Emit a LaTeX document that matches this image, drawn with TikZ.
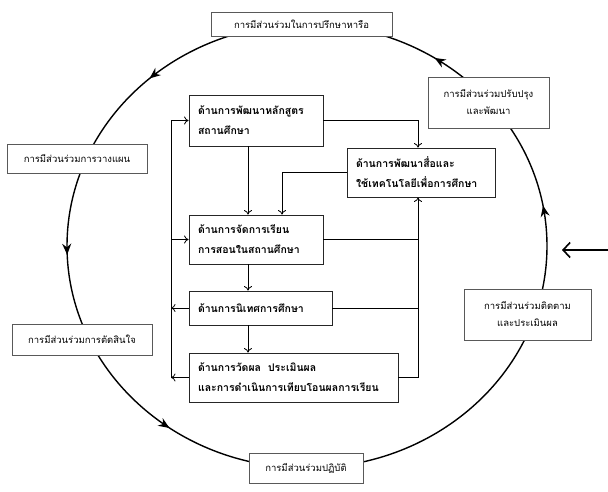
\documentclass[tikz,border=0pt]{standalone}
\usepackage{fontspec}
\newfontfamily\thaifont[Script=Thai]{Loma}
\usepackage{tikz}
\usetikzlibrary{arrows.meta,decorations.markings}

\begin{document}
\begin{tikzpicture}[x=1pt,y=1pt,
  outer/.style={draw=black!65, fill=white, line width=0.6pt, align=center,
    inner sep=0pt, font=\thaifont\fontsize{9.5}{17}\selectfont},
  inbox/.style={draw=black!85, fill=white, line width=0.8pt, align=left,
    inner xsep=9pt, inner ysep=0pt, font=\thaifont\bfseries\fontsize{10.5}{20}\selectfont},
  link/.style={line width=0.8pt, -{To[length=4.5pt,width=8pt]}},
  ring/.style={line width=1.4pt, postaction={decorate}, decoration={markings,
    mark=at position 0.028 with {\arrow{Stealth[length=11pt,width=9pt]}},
    mark=at position 0.158 with {\arrow{Stealth[length=11pt,width=9pt]}},
    mark=at position 0.367 with {\arrow{Stealth[length=11pt,width=9pt]}},
    mark=at position 0.506 with {\arrow{Stealth[length=11pt,width=9pt]}},
    mark=at position 0.650 with {\arrow{Stealth[length=11pt,width=9pt]}}}}]
\useasboundingbox (0,0) rectangle (608,491);

% the cycle of participation
\draw[ring] (307,245) ellipse [x radius=240, y radius=222];

\node[outer, minimum width=181pt, minimum height=24pt] (consult) at (301.5,467) {การมีส่วนร่วมในการปรึกษาหารือ};
\node[outer, minimum width=121pt, minimum height=51pt] (improve) at (488.5,388.5) {การมีส่วนร่วมปรับปรุง\\และพัฒนา};
\node[outer, minimum width=140pt, minimum height=29pt] (plan) at (77,332.5) {การมีส่วนร่วมการวางแผน};
\node[outer, minimum width=140pt, minimum height=31pt] (decide) at (82,151.5) {การมีส่วนร่วมการตัดสินใจ};
\node[outer, minimum width=114pt, minimum height=30pt] (act) at (306,23) {การมีส่วนร่วมปฏิบัติ};
\node[outer, minimum width=127pt, minimum height=51pt] (monitor) at (527.5,176.5) {การมีส่วนร่วมติดตาม\\และประเมินผล};

% inner areas
\node[inbox, text width=116pt, minimum height=51pt] (curr) at (256,370.5) {ด้านการพัฒนาหลักสูตร\\สถานศึกษา};
\node[inbox, text width=130pt, minimum height=49pt] (media) at (421,318.5) {ด้านการพัฒนาสื่อและ\\ใช้เทคโนโลยีเพื่อการศึกษา};
\node[inbox, text width=116pt, minimum height=49pt] (teach) at (256,251.5) {ด้านการจัดการเรียน\\การสอนในสถานศึกษา};
\node[inbox, text width=125pt, minimum height=34pt] (superv) at (260.5,183) {ด้านการนิเทศการศึกษา};
\node[inbox, text width=191pt, minimum height=49pt] (assess) at (293.5,113.5) {ด้านการวัดผล\ \ ประเมินผล\\และการดำเนินการเทียบโอนผลการเรียน};

\coordinate (spine) at (248,0);
\coordinate (drop) at (282,0);
\coordinate (lft) at (171,0);
\coordinate (rgt) at (418,0);

\draw[link] (curr.south -| spine) -- (teach.north -| spine);
\draw[link] (teach.south -| spine) -- (superv.north -| spine);
\draw[link] (superv.south -| spine) -- (assess.north -| spine);
\draw[link] (curr.east) -| (media.north -| rgt);
\draw[link] (media.west) -| (teach.north -| drop);

% feedback on the left
\draw[line width=0.8pt] (assess.west -| lft) -- (curr.west -| lft);
\draw[link] (curr.west -| lft) -- (curr.west);
\draw[link] (teach.west -| lft) -- (teach.west);
\draw[link] (superv.west) -- (superv.west -| lft);
\draw[link] (assess.west) -- (assess.west -| lft);

% lines up to the media box
\draw[link] (assess.east) -| (media.south -| rgt);
\draw[line width=0.8pt] (teach.east) -- (teach.east -| rgt);
\draw[line width=0.8pt] (superv.east) -- (superv.east -| rgt);

% input from outside
\coordinate (src) at (608,241);
\coordinate (tip) at (562,241);
\draw[line width=1.6pt, -{Straight Barb[length=7pt,width=15pt]}] (src) -- (tip);
\end{tikzpicture}
\end{document}
